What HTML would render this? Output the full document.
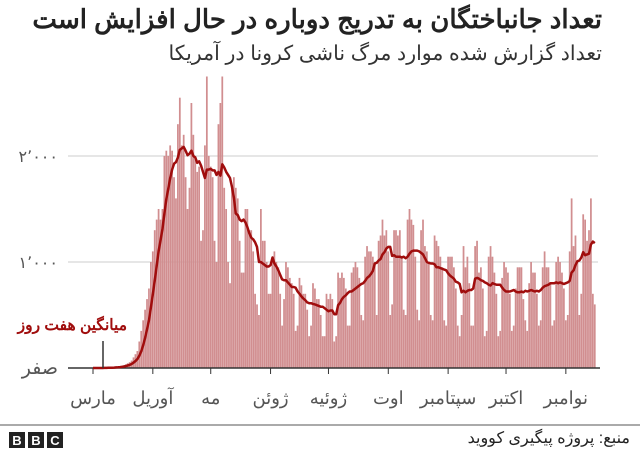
<!DOCTYPE html>
<html><head><meta charset="utf-8">
<style>
html,body{margin:0;padding:0;background:#fff;}
body{width:640px;height:450px;overflow:hidden;position:relative;font-family:"Liberation Sans","Noto Sans CJK SC",sans-serif;}
.t{position:absolute;direction:rtl;white-space:nowrap;font-family:"Liberation Sans","Noto Sans CJK SC",sans-serif;}
</style></head>
<body>
<svg id="chart" width="640" height="450" xmlns="http://www.w3.org/2000/svg" style="position:absolute;left:0;top:0">
<g id="grid"></g>
<g id="bars"></g>
<g id="axes"></g>
<path id="avgline" fill="none" stroke="#a00d0d" stroke-width="2.5" stroke-linejoin="round"/>
<line x1="103" y1="341" x2="103" y2="368" stroke="#333" stroke-width="1.5"/>
<line x1="0" y1="425" x2="640" y2="425" stroke="#555" stroke-width="1"/>
<g>
<rect x="9" y="432" width="16" height="16" fill="#222"/><rect x="28" y="432" width="16" height="16" fill="#222"/><rect x="47" y="432" width="16" height="16" fill="#222"/>
<text x="17" y="445" text-anchor="middle" font-size="13" font-weight="bold" fill="#fff">B</text>
<text x="36" y="445" text-anchor="middle" font-size="13" font-weight="bold" fill="#fff">B</text>
<text x="55" y="445" text-anchor="middle" font-size="13" font-weight="bold" fill="#fff">C</text>
</g>
</svg>
<div class="t" style="right:38px;top:4px;font-size:26px;font-weight:bold;color:#222;">تعداد جانباختگان به تدریج دوباره در حال افزایش است</div>
<div class="t" style="right:38px;top:41px;font-size:20.5px;color:#333;">تعداد گزارش شده موارد مرگ ناشی کرونا در آمریکا</div>
<div class="t" style="right:513px;top:316px;font-size:15.5px;font-weight:bold;color:#a00d0d;">میانگین هفت روز</div>
<div class="t" style="right:10px;top:428px;font-size:16px;color:#222;">منبع: پروژه پیگیری کووید</div>
<script>
const mar=[0,0,0,1,1,1,2,3,4,5,6,8,10,12,15,20,25,35,45,55,70,100,130,160,250,350,450,550,650,750,1000];
const apr=[1100,1300,1400,1500,1400,1500,2000,2050,2000,2100,2050,1800,1600,2300,2550,2100,2200,1800,1500,1700,2500,2200,2000,1850,1900,1200,1300,2100,2750,2000];
const may=[1900,1800,1200,1000,2300,2500,2750,1700,1500,1000,800,1700,1800,1700,1600,1200,900,900,1500,1500,1300,1300,1100,700,600,500,1500,1200,1200,1000,700];
const jun=[700,1000,1100,1000,950,700,400,650,1000,950,850,800,700,350,400,850,780,700,700,550,300,400,800,750,650,650,500,300,300,700];
const jul=[650,700,650,250,300,900,850,900,850,750,400,400,900,950,1000,950,850,500,450,1050,1150,1100,1100,1050,1000,500,1200,1250,1400,1250,1300];
const aug=[1100,500,600,1300,1300,1250,1300,1050,550,500,1400,1500,1400,1350,1050,550,450,1300,1400,1150,1100,1000,500,450,1250,1200,1150,1050,950,450,400];
const sep=[1050,1050,1050,950,750,400,300,500,1150,950,1050,800,400,400,1150,1200,900,950,750,300,350,1050,1150,1050,900,700,300,350,850,1000];
const oct=[950,900,700,350,400,750,950,950,950,650,450,350,800,1000,900,900,700,400,450,950,1100,950,950,800,400,450,1000,1050,1000,900,750];
const nov=[450,500,1100,1600,1150,1250,1000,500,700,1450,1400,1200,1300,1600,700,600];
const monthLabels=["مارس","آوریل","مه","ژوئن","ژوئیه","اوت","سپتامبر","اکتبر","نوامبر"];
const monthStarts=[0,31,61,92,122,153,184,214,245];
const yTicks=[0,1000,2000];
const yTickLabels=["صفر","۱٬۰۰۰","۲٬۰۰۰"];

const daily=[].concat(mar,apr,may,jun,jul,aug,sep,oct,nov);
const NS="http://www.w3.org/2000/svg";
const x0=93, pxDay=1.93, y0=368, pxUnit=0.106;
const xs=d=>x0+d*pxDay;
const ys=v=>y0-v*pxUnit;
function mk(tag,attrs,parent){const e=document.createElementNS(NS,tag);for(const k in attrs)e.setAttribute(k,attrs[k]);parent.appendChild(e);return e;}
const grid=document.getElementById('grid'),bars=document.getElementById('bars'),axes=document.getElementById('axes');
yTicks.forEach((t,i)=>{
  if(t>0){const l=mk('line',{x1:68,x2:598,y1:ys(t),y2:ys(t),stroke:'#ccc','stroke-width':1},grid);
  
  }
  const tx=mk('text',{x:58,y:ys(t)+6,'text-anchor':'end','font-size':t>0?16:19,fill:'#555'},grid);
  tx.textContent=yTickLabels[i];
  
  
});
daily.forEach((v,d)=>{
  const r=mk('rect',{x:xs(d)-0.9,y:ys(v),width:1.75,height:v*pxUnit,fill:'#d18e90'},bars);
  
  
});
const ax=mk('line',{x1:68,x2:600,y1:y0,y2:y0,stroke:'#333','stroke-width':1.5},axes);


monthStarts.forEach((m,i)=>{
  const t=mk('line',{x1:xs(m),x2:xs(m),y1:y0,y2:y0+6,stroke:'#333','stroke-width':1},axes);
  
  
  const lb=mk('text',{x:xs(m),y:404,'text-anchor':'middle','font-size':18,fill:'#555'},axes);
  lb.textContent=monthLabels[i];
  
  
});
let dpath='';
for(let d=0;d<daily.length;d++){
  let s=0;for(let k=Math.max(0,d-6);k<=d;k++){s+=daily[k];}
  const a=s/7;
  dpath+=(d?'L':'M')+xs(d).toFixed(1)+','+ys(a).toFixed(1);
}
document.getElementById('avgline').setAttribute('d',dpath);
</script>
</body></html>
